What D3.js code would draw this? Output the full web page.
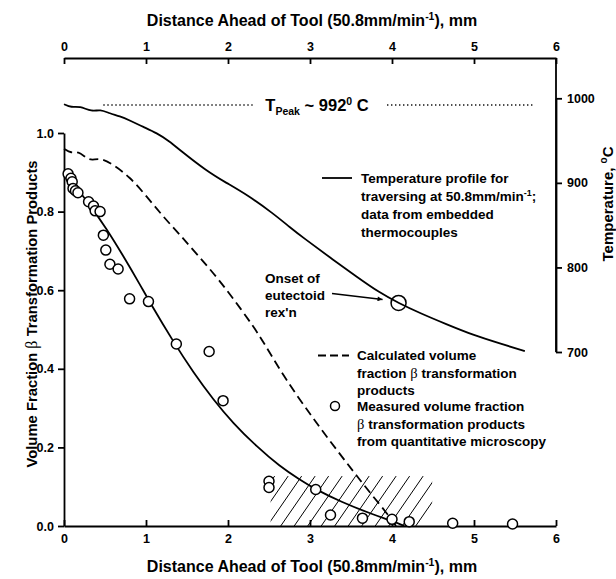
<!DOCTYPE html>
<html>
<head>
<meta charset="utf-8">
<script src="https://cdn.jsdelivr.net/npm/d3@7"></script>
<style>
  body { margin: 0; background: #fff; }
  text { font-family: "Liberation Sans", Arial, sans-serif; font-weight: bold; fill: #000; }
</style>
</head>
<body>
<script>
// temperature profile ahead of tool, [mm, degC]
const tempProfile = [
  [0.00, 993], [0.09, 989], [0.19, 991], [0.34, 984], [0.44, 987], [0.56, 982],
  [0.68, 979], [0.80, 974], [0.97, 966], [1.13, 959], [1.29, 949], [1.41, 939],
  [1.74, 914], [1.98, 900], [2.23, 886], [2.55, 864], [2.76, 847], [2.92, 835],
  [3.24, 812], [3.57, 789], [3.85, 770], [4.08, 758], [4.34, 746], [4.66, 733],
  [4.99, 720], [5.32, 710], [5.62, 701]
];
// calculated volume fraction (dashed)
const calcFraction = [
  [0.00, 0.960], [0.09, 0.948], [0.17, 0.954], [0.28, 0.935], [0.34, 0.931],
  [0.46, 0.936], [0.60, 0.919], [0.80, 0.889], [1.01, 0.838], [1.21, 0.787],
  [1.41, 0.742], [1.62, 0.692], [1.86, 0.634], [2.06, 0.580], [2.31, 0.508],
  [2.45, 0.462], [2.63, 0.398], [2.84, 0.332], [3.04, 0.274], [3.24, 0.217],
  [3.45, 0.160], [3.61, 0.117], [3.77, 0.075], [3.94, 0.032], [4.05, 0.000]
];
// fitted curve through measurements (solid)
const fitFraction = [
  [0.03, 0.893], [0.30, 0.822], [0.52, 0.756], [0.72, 0.688], [0.93, 0.613],
  [1.05, 0.568], [1.33, 0.470], [1.58, 0.390], [1.82, 0.322], [2.06, 0.262],
  [2.35, 0.202], [2.63, 0.152], [2.88, 0.117], [3.07, 0.093], [3.37, 0.062],
  [3.77, 0.029], [4.00, 0.013], [4.15, 0.000]
];
// measured volume fraction (circles)
const measured = [
  [0.05, 0.896], [0.085, 0.885], [0.10, 0.876], [0.11, 0.859], [0.14, 0.853],
  [0.17, 0.848], [0.30, 0.825], [0.36, 0.814], [0.38, 0.802], [0.44, 0.800],
  [0.48, 0.740], [0.51, 0.702], [0.56, 0.666], [0.66, 0.654], [0.80, 0.578],
  [1.03, 0.571], [1.37, 0.463], [1.77, 0.444], [1.94, 0.319], [2.50, 0.114],
  [2.50, 0.098], [3.07, 0.093], [3.25, 0.028], [3.64, 0.020], [4.00, 0.017],
  [4.21, 0.011], [4.74, 0.007], [5.47, 0.005]
];
const onset = [4.08, 758];
const peakTemp = 992;
const peakSegments = [[0.48, 2.30], [3.94, 5.73]];
const hatchBox = { x0: 2.52, x1: 4.49, y0: 0, y1: 0.127 };

const xTicks = [0, 1, 2, 3, 4, 5, 6];
const fracTicks = [0, 0.2, 0.4, 0.6, 0.8, 1.0];
const tempTicks = [700, 800, 900, 1000];

const W = 616, H = 579;
const svg = d3.select("body").append("svg")
  .attr("width", W)
  .attr("height", H);

const x = d3.scaleLinear().domain([0, 6]).range([64, 556]);
const yF = d3.scaleLinear().domain([0, 1]).range([526, 133]);
const yT = d3.scaleLinear().domain([700, 1000]).range([352, 98.3]);
const topY = 58;

function styleAxis(g) {
  g.selectAll("path, line").attr("stroke", "#000").attr("stroke-width", 1.8);
  g.selectAll("text").attr("font-size", 12.5).attr("font-weight", "bold")
    .attr("font-family", "Liberation Sans, Arial, sans-serif").attr("fill", "#000");
}

// bottom axis, ticks pointing in
svg.append("g")
  .attr("transform", `translate(0,${yF(0)})`)
  .call(d3.axisBottom(x).tickValues(xTicks).tickFormat(d3.format("d"))
    .tickSizeInner(-6).tickSizeOuter(0).tickPadding(8))
  .call(styleAxis);

// top axis
svg.append("g")
  .attr("transform", `translate(0,${topY})`)
  .call(d3.axisTop(x).tickValues(xTicks).tickFormat(d3.format("d"))
    .tickSizeInner(-6).tickSizeOuter(0).tickPadding(7))
  .call(styleAxis);

// left axis
svg.append("g")
  .attr("transform", `translate(${x(0)},0)`)
  .call(d3.axisLeft(yF).tickValues(fracTicks).tickFormat(d3.format(".1f"))
    .tickSize(6).tickSizeOuter(0).tickPadding(4))
  .call(styleAxis);

// right axis (temperature), line runs up to the top axis
svg.append("g")
  .attr("transform", `translate(${x(6)},0)`)
  .call(d3.axisRight(yT).tickValues(tempTicks).tickFormat(d3.format("d"))
    .tickSize(6).tickSizeOuter(0).tickPadding(5))
  .call(styleAxis);
svg.append("line")
  .attr("x1", x(6)).attr("x2", x(6))
  .attr("y1", topY).attr("y2", yT(700))
  .attr("stroke", "#000").attr("stroke-width", 1.8);

// hatched region
svg.append("clipPath").attr("id", "hatchClip")
  .append("rect")
  .attr("x", x(hatchBox.x0)).attr("y", yF(hatchBox.y1))
  .attr("width", x(hatchBox.x1) - x(hatchBox.x0))
  .attr("height", yF(hatchBox.y0) - yF(hatchBox.y1));
const hatchH = yF(hatchBox.y0) - yF(hatchBox.y1);
const hatchLean = hatchH / 1.45;
const hatchStarts = d3.range(x(hatchBox.x0) - hatchLean + 4, x(hatchBox.x1) - 12, 13.5);
svg.append("g").attr("clip-path", "url(#hatchClip)")
  .selectAll("line").data(hatchStarts).join("line")
  .attr("x1", d => d).attr("y1", yF(0))
  .attr("x2", d => d + hatchLean).attr("y2", yF(hatchBox.y1))
  .attr("stroke", "#000").attr("stroke-width", 1);

// peak temperature dotted line
svg.append("g").selectAll("line").data(peakSegments).join("line")
  .attr("x1", d => x(d[0])).attr("x2", d => x(d[1]))
  .attr("y1", yT(peakTemp)).attr("y2", yT(peakTemp))
  .attr("stroke", "#000").attr("stroke-width", 1.4)
  .attr("stroke-dasharray", "1.3,2.7");

// curves
const tLine = d3.line().x(d => x(d[0])).y(d => yT(d[1])).curve(d3.curveBasis);
const fLine = d3.line().x(d => x(d[0])).y(d => yF(d[1])).curve(d3.curveBasis);

svg.append("path").datum(tempProfile).attr("d", tLine)
  .attr("fill", "none").attr("stroke", "#000").attr("stroke-width", 1.8);
svg.append("path").datum(calcFraction).attr("d", fLine)
  .attr("fill", "none").attr("stroke", "#000").attr("stroke-width", 1.8)
  .attr("stroke-dasharray", "9,5");
svg.append("path").datum(fitFraction).attr("d", fLine)
  .attr("fill", "none").attr("stroke", "#000").attr("stroke-width", 1.8);

// measured points
svg.append("g").selectAll("circle").data(measured).join("circle")
  .attr("cx", d => x(d[0])).attr("cy", d => yF(d[1])).attr("r", 5)
  .attr("fill", "#fff").attr("stroke", "#000").attr("stroke-width", 1.5);

// onset marker and arrow
svg.append("circle")
  .attr("cx", x(onset[0])).attr("cy", yT(onset[1])).attr("r", 7.5)
  .attr("fill", "none").attr("stroke", "#000").attr("stroke-width", 1.5);
svg.append("defs").append("marker")
  .attr("id", "arrow").attr("viewBox", "0 0 10 10")
  .attr("refX", 10).attr("refY", 5)
  .attr("markerWidth", 9).attr("markerHeight", 5)
  .attr("markerUnits", "userSpaceOnUse")
  .attr("orient", "auto")
  .append("path").attr("d", "M0,0L10,5L0,10Z").attr("fill", "#000");
svg.append("line")
  .attr("x1", 332).attr("y1", 293.5)
  .attr("x2", x(onset[0]) - 16).attr("y2", yT(onset[1]) - 3.5)
  .attr("stroke", "#000").attr("stroke-width", 1.5)
  .attr("marker-end", "url(#arrow)");

// text helpers
function multiline(xp, y0, lines, dy) {
  const t = svg.append("text").attr("font-size", 13.5);
  lines.forEach((ln, i) => {
    const row = t.append("tspan").attr("x", xp).attr("y", y0 + i * dy);
    ln.forEach(part => {
      const s = row.append("tspan").text(part.t);
      if (part.greek) s.attr("font-family", "Liberation Serif, serif").attr("font-weight", "normal").attr("font-size", 14.5);
      if (part.sup) s.attr("font-size", 9).attr("dy", -5);
      if (part.after) s.attr("dy", 5);
    });
  });
  return t;
}

// axis titles
function distTitle(y) {
  const t = svg.append("text").attr("x", 312).attr("y", y)
    .attr("text-anchor", "middle").attr("font-size", 16);
  t.append("tspan").text("Distance Ahead of Tool (50.8mm/min");
  t.append("tspan").text("-1").attr("font-size", 10.5).attr("dy", -6);
  t.append("tspan").text("), mm").attr("dy", 6);
}
distTitle(26);
distTitle(572);

const leftTitle = svg.append("text")
  .attr("transform", `translate(37,${314}) rotate(-90)`)
  .attr("text-anchor", "middle").attr("font-size", 14.8);
leftTitle.append("tspan").text("Volume Fraction ");
leftTitle.append("tspan").text("β").attr("font-family", "Liberation Serif, serif")
  .attr("font-weight", "normal").attr("font-size", 16);
leftTitle.append("tspan").text(" Transformation Products");

const rightTitle = svg.append("text")
  .attr("transform", `translate(613,${204}) rotate(-90)`)
  .attr("text-anchor", "middle").attr("font-size", 15);
rightTitle.append("tspan").text("Temperature, ");
rightTitle.append("tspan").text("o").attr("font-size", 10).attr("dy", -6);
rightTitle.append("tspan").text("C").attr("dy", 6);

// peak label
const peak = svg.append("text").attr("x", 317).attr("y", 111)
  .attr("text-anchor", "middle").attr("font-size", 16.5);
peak.append("tspan").text("T");
peak.append("tspan").text("Peak").attr("font-size", 10.5).attr("dy", 4);
peak.append("tspan").text(" ~ 992").attr("dy", -4);
peak.append("tspan").text("0").attr("font-size", 10.5).attr("dy", -6);
peak.append("tspan").text(" C").attr("dy", 6);

// legend: temperature profile
svg.append("line").attr("x1", 322).attr("x2", 352).attr("y1", 178).attr("y2", 178)
  .attr("stroke", "#000").attr("stroke-width", 1.8);
multiline(361, 183, [
  [{ t: "Temperature profile for" }],
  [{ t: "traversing at 50.8mm/min" }, { t: "-1", sup: true }, { t: ";", after: true }],
  [{ t: "data from embedded" }],
  [{ t: "thermocouples" }]
], 18);

// onset annotation
multiline(265, 283, [
  [{ t: "Onset of" }], [{ t: "eutectoid" }], [{ t: "rex'n" }]
], 17);

// legend: calculated fraction
svg.append("line").attr("x1", 318).attr("x2", 349).attr("y1", 355.5).attr("y2", 355.5)
  .attr("stroke", "#000").attr("stroke-width", 1.8).attr("stroke-dasharray", "8,4");
multiline(357, 360, [
  [{ t: "Calculated volume" }],
  [{ t: "fraction " }, { t: "β", greek: true }, { t: " transformation" }],
  [{ t: "products" }]
], 17.5);

// legend: measured fraction
svg.append("circle").attr("cx", 335).attr("cy", 406).attr("r", 4.5)
  .attr("fill", "#fff").attr("stroke", "#000").attr("stroke-width", 1.5);
multiline(357, 411, [
  [{ t: "Measured volume fraction" }],
  [{ t: "β", greek: true }, { t: " transformation products" }],
  [{ t: "from quantitative microscopy" }]
], 17.5);
</script>
</body>
</html>
